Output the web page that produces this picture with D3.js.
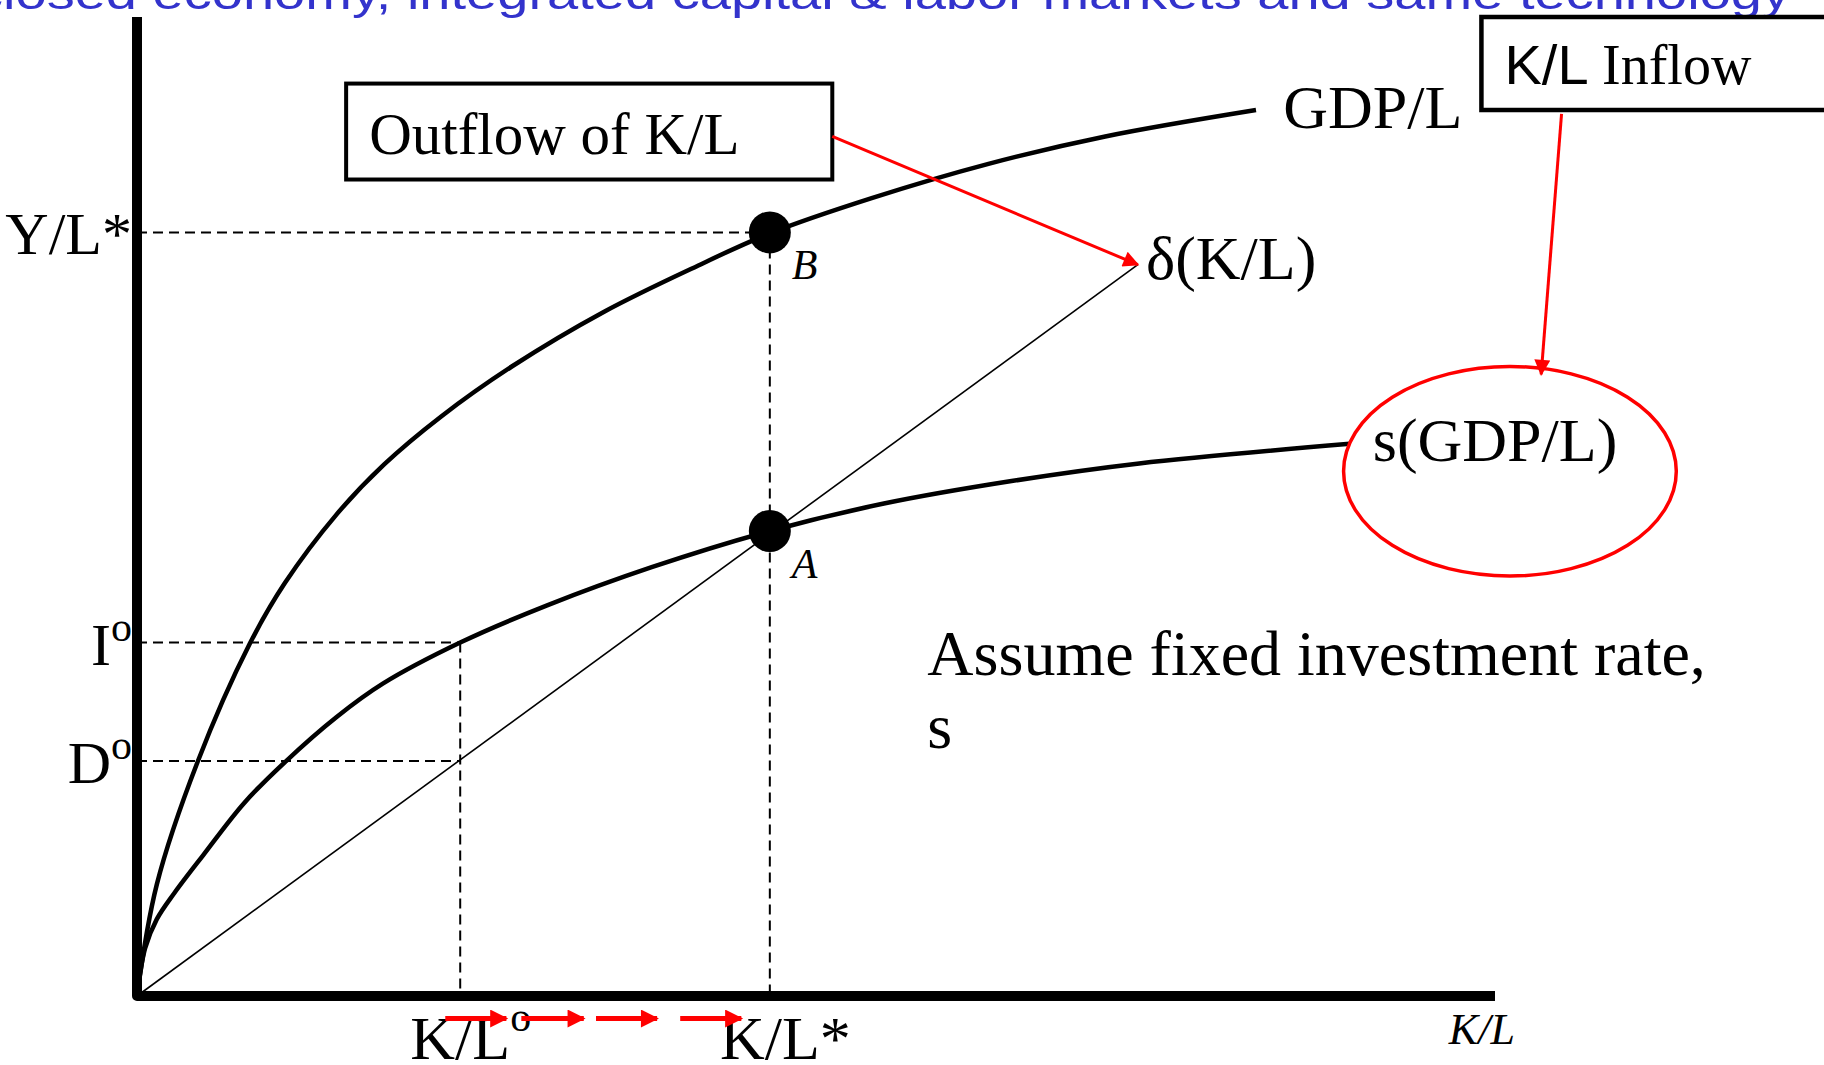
<!DOCTYPE html>
<html>
<head>
<meta charset="utf-8">
<script src="https://cdn.jsdelivr.net/npm/d3@7"></script>
<style>
  html, body { margin: 0; padding: 0; background: #fff; overflow: hidden; }
  svg { display: block; }
</style>
</head>
<body>
<div id="chart"></div>
<script>
// K/L on the x axis, output per worker on the y axis, both in 0-100 units
const gdpCurve = [[0, 0], [1.46, 11.4], [4.46, 23.9], [8.31, 36.0], [10.9, 42.2], [14.7, 49.2],
  [18.2, 54.3], [22.4, 59.2], [27.6, 64.3], [34.4, 69.9], [41.3, 74.6], [46.6, 77.9],
  [54.1, 81.5], [62.7, 85.0], [71.3, 87.8], [82.4, 90.5]]
const savingCurve = [[0, 0], [0.6, 4.9], [1.46, 7.85], [2.74, 10.5], [4.88, 14.4], [7.88, 19.7],
  [10.9, 23.9], [14.7, 28.5], [18.1, 31.9], [23.8, 36.1], [30.2, 39.9], [37.9, 43.8],
  [46.6, 47.5], [55.0, 50.3], [64.4, 52.6], [73.8, 54.4], [89.3, 56.4]]
const deprLine = [[0, 0], [73.7, 74.7]]

const kStar = 46.6, kZero = 23.8
const yStar = 78.0, iZero = 36.1, dZero = 24.0
const yTicks = [
  { value: yStar, label: "Y/L", sup: "*" },
  { value: iZero, label: "I", sup: "o" },
  { value: dZero, label: "D", sup: "o" }
]
const xTicks = [
  { value: kZero, label: "K/L", sup: "o" },
  { value: kStar, label: "K/L", sup: "*" }
]
const points = [
  { name: "B", k: kStar, v: yStar },
  { name: "A", k: kStar, v: 47.5 }
]
const curveLabels = [
  { text: "GDP/L", k: 84.4, v: 88.7 },
  { text: "\u03b4(K/L)", k: 74.3, v: 73.2 },
  { text: "s(GDP/L)", k: 91.0, v: 54.6 }
]
const flowArrows = [[22.7, 27.2], [28.3, 32.9], [33.8, 38.3], [40.0, 44.5]]
const title = "closed economy, integrated capital & labor markets and same technology"

const W = 1824, H = 1065
const serif = '"Liberation Serif", "Times New Roman", serif'
const sans = '"Liberation Sans", Arial, sans-serif'
const red = "#ff0000"

const x = d3.scaleLinear().domain([0, 100]).range([137, 1495])
const y = d3.scaleLinear().domain([0, 100]).range([996, 17])

const svg = d3.select("#chart").append("svg")
  .attr("width", W)
  .attr("height", H)

const defs = svg.append("defs")
defs.append("marker")
  .attr("id", "head-thin")
  .attr("markerUnits", "userSpaceOnUse")
  .attr("viewBox", "0 0 10 10")
  .attr("refX", 9).attr("refY", 5)
  .attr("markerWidth", 18).attr("markerHeight", 16)
  .attr("orient", "auto")
  .append("path").attr("d", "M0,0L10,5L0,10z").attr("fill", red)
defs.append("marker")
  .attr("id", "head-thick")
  .attr("markerUnits", "userSpaceOnUse")
  .attr("viewBox", "0 0 10 10")
  .attr("refX", 9).attr("refY", 5)
  .attr("markerWidth", 20).attr("markerHeight", 18)
  .attr("orient", "auto")
  .append("path").attr("d", "M0,0L10,5L0,10z").attr("fill", red)

// title, mostly cut off at the top edge
svg.append("text")
  .attr("x", -25).attr("y", 9)
  .attr("textLength", 1815)
  .attr("lengthAdjust", "spacingAndGlyphs")
  .style("font-family", sans)
  .style("font-size", "44px")
  .attr("fill", "#3333cc")
  .text(title)

// dashed guides
const dashes = [
  [[0, yStar], [kStar, yStar]],
  [[kStar, yStar], [kStar, 0]],
  [[0, iZero], [kZero, iZero]],
  [[kZero, iZero], [kZero, 0]],
  [[0, dZero], [kZero, dZero]]
]
const line = d3.line().x(d => x(d[0])).y(d => y(d[1]))
svg.append("g").selectAll("path")
  .data(dashes)
  .join("path")
  .attr("d", line)
  .attr("fill", "none")
  .attr("stroke", "#000")
  .attr("stroke-width", 2)
  .attr("stroke-dasharray", "10,6")

// depreciation line
svg.append("path")
  .datum(deprLine)
  .attr("d", line)
  .attr("fill", "none")
  .attr("stroke", "#000")
  .attr("stroke-width", 1.6)

const smooth = d3.line().x(d => x(d[0])).y(d => y(d[1])).curve(d3.curveCatmullRom.alpha(0.5))
svg.append("path")
  .datum(gdpCurve)
  .attr("d", smooth)
  .attr("fill", "none")
  .attr("stroke", "#000")
  .attr("stroke-width", 4.5)
svg.append("path")
  .datum(savingCurve)
  .attr("d", smooth)
  .attr("fill", "none")
  .attr("stroke", "#000")
  .attr("stroke-width", 4.5)

// axes
svg.append("path")
  .attr("d", `M${x(0)},${y(100)}V${y(0)}H${x(100)}`)
  .attr("fill", "none")
  .attr("stroke", "#000")
  .attr("stroke-width", 10)
  .attr("stroke-linejoin", "round")

// steady state points
svg.append("g").selectAll("circle")
  .data(points)
  .join("circle")
  .attr("cx", d => x(d.k))
  .attr("cy", d => y(d.v))
  .attr("r", 21)
  .attr("fill", "#000")
svg.append("g").selectAll("text")
  .data(points)
  .join("text")
  .attr("x", d => x(d.k) + 22)
  .attr("y", d => y(d.v) + 47)
  .style("font-family", serif)
  .style("font-style", "italic")
  .style("font-size", "42px")
  .text(d => d.name)

// y tick labels
const yl = svg.append("g").selectAll("text")
  .data(yTicks)
  .join("text")
  .attr("x", x(0) - 5)
  .attr("y", d => y(d.value) + 22)
  .attr("text-anchor", "end")
  .style("font-family", serif)
  .style("font-size", "60px")
yl.append("tspan").text(d => d.label)
yl.append("tspan")
  .style("font-size", d => d.sup === "o" ? "42px" : "60px")
  .attr("dy", d => d.sup === "o" ? -24 : 0)
  .text(d => d.sup)

// x tick labels, the K/L part centred on the tick
const xl = svg.append("g").selectAll("text")
  .data(xTicks)
  .join("text")
  .attr("y", y(0) + 63)
  .style("font-family", serif)
  .style("font-size", "62px")
xl.append("tspan").attr("class", "main").text(d => d.label)
xl.append("tspan")
  .style("font-size", d => d.sup === "o" ? "42px" : "62px")
  .attr("dy", d => d.sup === "o" ? -28 : 0)
  .text(d => d.sup)
xl.each(function(d) {
  const w = d3.select(this).select(".main").node().getComputedTextLength()
  d3.select(this).attr("x", x(d.value) - w / 2)
})

// capital flow arrows under the axis
svg.append("g").selectAll("line")
  .data(flowArrows)
  .join("line")
  .attr("x1", d => x(d[0]))
  .attr("x2", d => x(d[1]))
  .attr("y1", y(-2.3))
  .attr("y2", y(-2.3))
  .attr("stroke", red)
  .attr("stroke-width", 5)
  .attr("marker-end", "url(#head-thick)")

svg.append("text")
  .attr("x", x(96.6))
  .attr("y", y(-4.9))
  .style("font-family", serif)
  .style("font-style", "italic")
  .style("font-size", "44px")
  .text("K/L")

// curve labels
svg.append("g").selectAll("text")
  .data(curveLabels)
  .join("text")
  .attr("x", d => x(d.k))
  .attr("y", d => y(d.v))
  .style("font-family", serif)
  .style("font-size", "62px")
  .text(d => d.text)

// outflow box and arrow to the depreciation line
svg.append("rect")
  .attr("x", x(15.4)).attr("y", y(93.2))
  .attr("width", x(51.2) - x(15.4))
  .attr("height", y(83.4) - y(93.2))
  .attr("fill", "none")
  .attr("stroke", "#000")
  .attr("stroke-width", 4)
svg.append("text")
  .attr("x", x(17.1)).attr("y", y(86.0))
  .style("font-family", serif)
  .style("font-size", "59px")
  .text("Outflow of K/L")
svg.append("line")
  .attr("x1", x(51.2)).attr("y1", y(87.8))
  .attr("x2", x(73.7)).attr("y2", y(74.7))
  .attr("stroke", red)
  .attr("stroke-width", 3)
  .attr("marker-end", "url(#head-thin)")

// inflow box, arrow and ellipse around s(GDP/L)
svg.append("rect")
  .attr("x", x(99.0)).attr("y", y(100))
  .attr("width", 400)
  .attr("height", y(90.5) - y(100))
  .attr("fill", "none")
  .attr("stroke", "#000")
  .attr("stroke-width", 4.5)
const inflow = svg.append("text")
  .attr("x", x(100.7)).attr("y", y(93.2))
  .style("font-size", "56px")
inflow.append("tspan").style("font-family", sans).text("K/L ")
inflow.append("tspan").style("font-family", serif).text("Inflow")
svg.append("line")
  .attr("x1", x(104.9)).attr("y1", y(90.1))
  .attr("x2", x(103.4)).attr("y2", y(63.5))
  .attr("stroke", red)
  .attr("stroke-width", 3)
  .attr("marker-end", "url(#head-thin)")
svg.append("ellipse")
  .attr("cx", x(101.1)).attr("cy", y(53.6))
  .attr("rx", x(12.25) - x(0))
  .attr("ry", y(0) - y(10.7))
  .attr("fill", "none")
  .attr("stroke", red)
  .attr("stroke-width", 3.5)

// note
const note = svg.append("text")
  .style("font-family", serif)
  .style("font-size", "64px")
note.append("tspan").attr("x", x(58.2)).attr("y", y(32.8)).text("Assume fixed investment rate,")
note.append("tspan").attr("x", x(58.2)).attr("y", y(25.3)).text("s")
</script>
</body>
</html>
